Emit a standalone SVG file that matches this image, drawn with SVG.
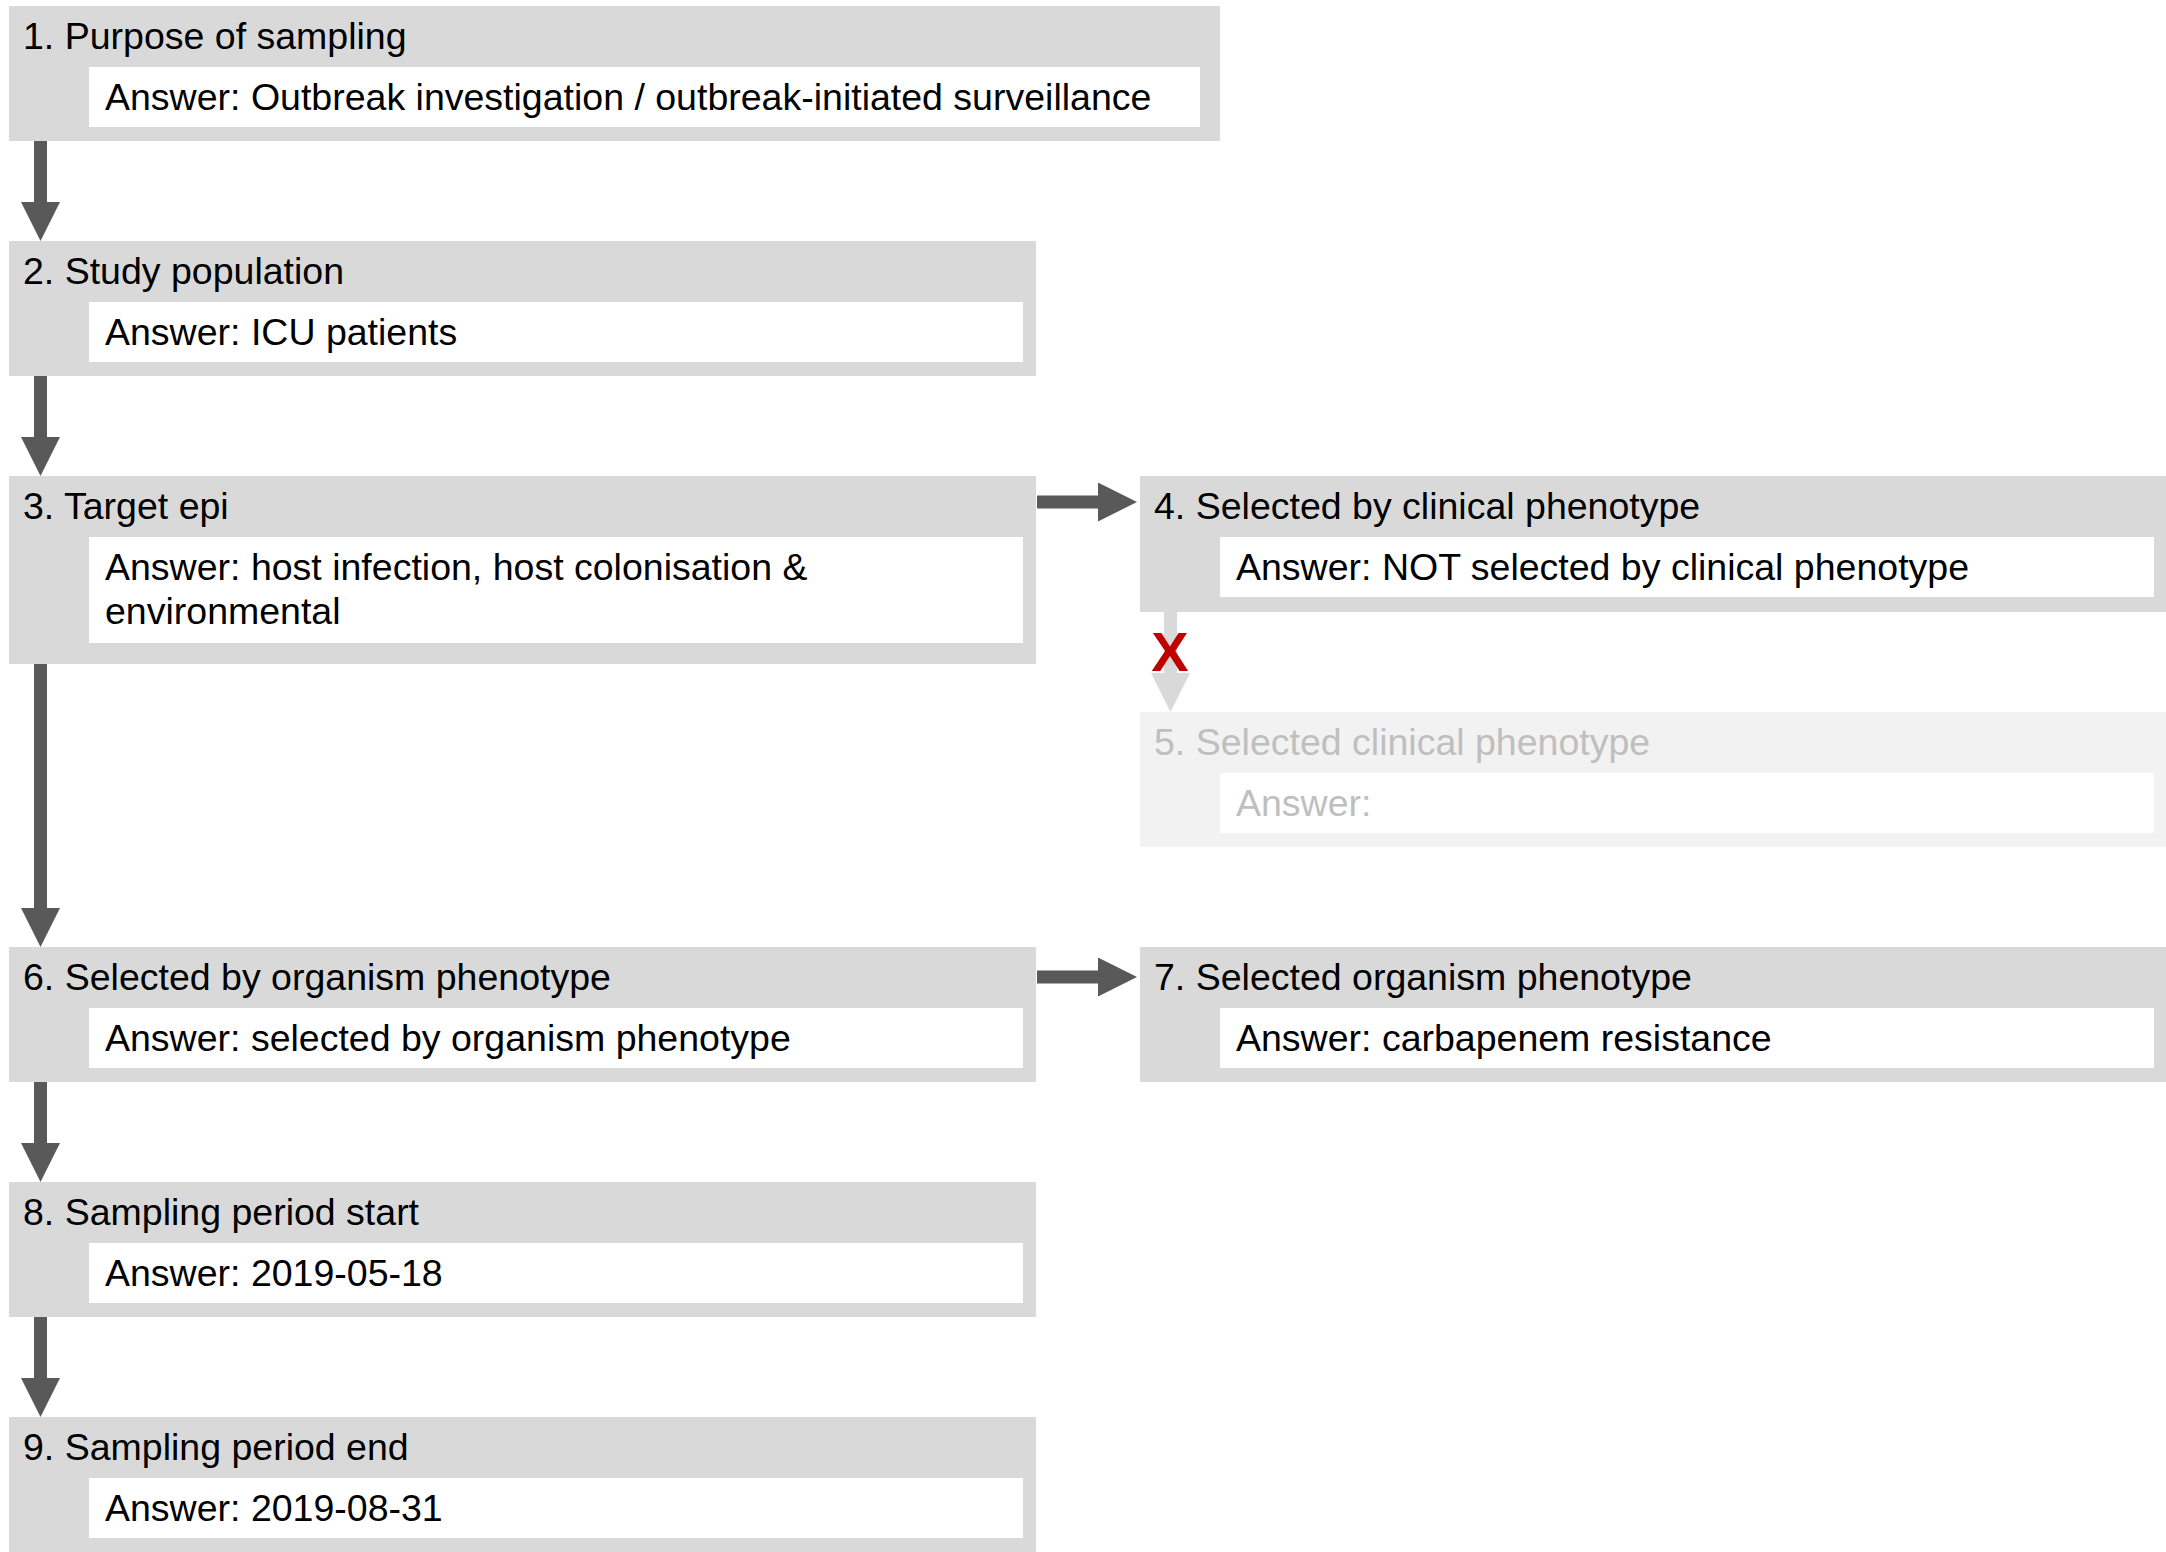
<svg xmlns="http://www.w3.org/2000/svg" width="2166" height="1552" viewBox="0 0 2166 1552">
<style>
  .node { fill: #d9d9d9; }
  .node-off { fill: #f2f2f2; }
  .ans { fill: #ffffff; }
  text { font-family: "Liberation Sans", Arial, Helvetica, sans-serif; font-size: 37.5px; fill: #000000; }
  .off text { fill: #bfbfbf; }
  .conn { stroke: #595959; stroke-width: 13; fill: none; stroke-linecap: butt; }
  .conn-off { stroke: #d9d9d9; stroke-width: 13; fill: none; stroke-linecap: butt; }
  .xmark { font-weight: bold; font-size: 56px; fill: #c00000; text-anchor: middle; }
</style>
<defs>
  <marker id="ah" viewBox="0 0 39 39" markerWidth="39" markerHeight="39" refX="0" refY="19.5" orient="auto" markerUnits="userSpaceOnUse">
    <path d="M0,0 L39,19.5 L0,39 Z" fill="#595959"/>
  </marker>
  <marker id="ah-off" viewBox="0 0 39 39" markerWidth="39" markerHeight="39" refX="0" refY="19.5" orient="auto" markerUnits="userSpaceOnUse">
    <path d="M0,0 L39,19.5 L0,39 Z" fill="#d9d9d9"/>
  </marker>
</defs>

<g id="n1">
  <rect class="node" x="9" y="6" width="1211" height="135"/>
  <rect class="ans" x="89" y="67" width="1111" height="60"/>
  <text x="23" y="49">1. Purpose of sampling</text>
  <text x="105" y="110">Answer: Outbreak investigation / outbreak-initiated surveillance</text>
</g>

<g id="n2">
  <rect class="node" x="9" y="241" width="1027" height="135"/>
  <rect class="ans" x="89" y="302" width="934" height="60"/>
  <text x="23" y="284">2. Study population</text>
  <text x="105" y="345">Answer: ICU patients</text>
</g>

<g id="n3">
  <rect class="node" x="9" y="476" width="1027" height="188"/>
  <rect class="ans" x="89" y="537" width="934" height="106"/>
  <text x="23" y="519">3. Target epi</text>
  <text x="105" y="580">Answer: host infection, host colonisation &amp;</text>
  <text x="105" y="624">environmental</text>
</g>

<g id="n4">
  <rect class="node" x="1140" y="476" width="1030" height="136"/>
  <rect class="ans" x="1220" y="537" width="934" height="60"/>
  <text x="1154" y="519">4. Selected by clinical phenotype</text>
  <text x="1236" y="580">Answer: NOT selected by clinical phenotype</text>
</g>

<g id="n5" class="off">
  <rect class="node-off" x="1140" y="712" width="1030" height="135"/>
  <rect class="ans" x="1220" y="773" width="934" height="60"/>
  <text x="1154" y="755">5. Selected clinical phenotype</text>
  <text x="1236" y="816">Answer:</text>
</g>

<g id="n6">
  <rect class="node" x="9" y="947" width="1027" height="135"/>
  <rect class="ans" x="89" y="1008" width="934" height="60"/>
  <text x="23" y="990">6. Selected by organism phenotype</text>
  <text x="105" y="1051">Answer: selected by organism phenotype</text>
</g>

<g id="n7">
  <rect class="node" x="1140" y="947" width="1030" height="135"/>
  <rect class="ans" x="1220" y="1008" width="934" height="60"/>
  <text x="1154" y="990">7. Selected organism phenotype</text>
  <text x="1236" y="1051">Answer: carbapenem resistance</text>
</g>

<g id="n8">
  <rect class="node" x="9" y="1182" width="1027" height="135"/>
  <rect class="ans" x="89" y="1243" width="934" height="60"/>
  <text x="23" y="1225">8. Sampling period start</text>
  <text x="105" y="1286">Answer: 2019-05-18</text>
</g>

<g id="n9">
  <rect class="node" x="9" y="1417" width="1027" height="135"/>
  <rect class="ans" x="89" y="1478" width="934" height="60"/>
  <text x="23" y="1460">9. Sampling period end</text>
  <text x="105" y="1521">Answer: 2019-08-31</text>
</g>

<g id="connectors">
  <line class="conn" x1="40.5" y1="141" x2="40.5" y2="202" marker-end="url(#ah)"/>
  <line class="conn" x1="40.5" y1="376" x2="40.5" y2="437" marker-end="url(#ah)"/>
  <line class="conn" x1="40.5" y1="664" x2="40.5" y2="908" marker-end="url(#ah)"/>
  <line class="conn" x1="40.5" y1="1082" x2="40.5" y2="1143" marker-end="url(#ah)"/>
  <line class="conn" x1="40.5" y1="1317" x2="40.5" y2="1378" marker-end="url(#ah)"/>
  <line class="conn" x1="1037" y1="502" x2="1098" y2="502" marker-end="url(#ah)"/>
  <line class="conn" x1="1037" y1="977" x2="1098" y2="977" marker-end="url(#ah)"/>
  <line class="conn-off" x1="1170.5" y1="612" x2="1170.5" y2="673" marker-end="url(#ah-off)"/>
  <text class="xmark" x="1170" y="671">X</text>
</g>
</svg>
